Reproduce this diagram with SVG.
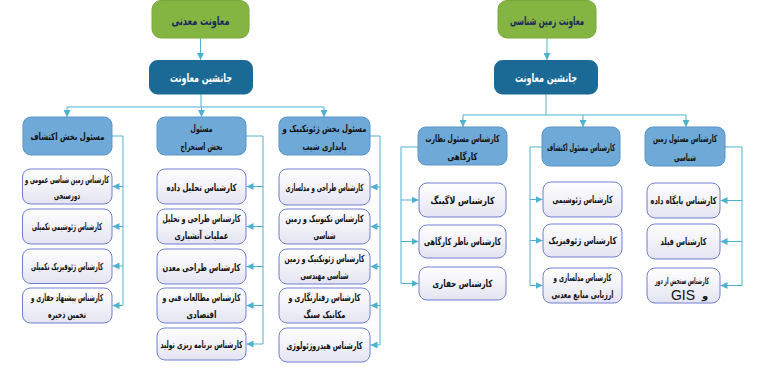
<svg xmlns="http://www.w3.org/2000/svg" width="768" height="378" viewBox="0 0 768 378">
<defs>
<linearGradient id="cg" x1="0" y1="0" x2="0" y2="1">
<stop offset="0" stop-color="#ffffff"/>
<stop offset="1" stop-color="#e4e4f2"/>
</linearGradient>
<marker id="ah" viewBox="0 0 10 10" refX="10" refY="5" markerWidth="7" markerHeight="7" markerUnits="userSpaceOnUse" orient="auto">
<path d="M0,0 L10,5 L0,10 z" fill="#4cb3cf"/>
</marker>
<style>
.top{fill:#84b441;stroke:#7aa63c;stroke-width:1}
.dep{fill:#1b6a96;stroke:#1b6a96;stroke-width:1}
.hd{fill:#6fa9d8;stroke:#5b95c6;stroke-width:1}
.ch{fill:url(#cg);stroke:#6f7fd3;stroke-width:1}
.t{font-family:"DejaVu Sans",sans-serif;text-anchor:middle}
.tt{font-size:12px;font-weight:bold;fill:#1b2a5a}
.td{font-size:11.5px;font-weight:bold;fill:#ffffff}
.th{font-size:10px;font-weight:bold;fill:#111111}
.tc{font-size:10px;font-weight:bold;fill:#111111}
.lat{font-family:"Liberation Sans",sans-serif;font-size:14px;fill:#111111;text-anchor:middle}
.cn{fill:none;stroke:#4cb3cf;stroke-width:1}
</style>
</defs>

<g id="connectors">
<path class="cn" d="M200.5,38 V60" marker-end="url(#ah)"/>
<path class="cn" d="M201,94 V107 M67,107 H324"/>
<path class="cn" d="M67,107 V117" marker-end="url(#ah)"/>
<path class="cn" d="M201.5,107 V117" marker-end="url(#ah)"/>
<path class="cn" d="M324,107 V117" marker-end="url(#ah)"/>
<path class="cn" d="M547,38 V60" marker-end="url(#ah)"/>
<path class="cn" d="M546,94 V115 M463,115 H686"/>
<path class="cn" d="M463,115 V127" marker-end="url(#ah)"/>
<path class="cn" d="M583,115 V127" marker-end="url(#ah)"/>
<path class="cn" d="M686,115 V127" marker-end="url(#ah)"/>

<path class="cn" d="M112,136 H123 V305.5"/>
<path class="cn" d="M123,186.5 H112.5" marker-end="url(#ah)"/>
<path class="cn" d="M123,226.5 H112.5" marker-end="url(#ah)"/>
<path class="cn" d="M123,266 H112.5" marker-end="url(#ah)"/>
<path class="cn" d="M123,305.5 H112.5" marker-end="url(#ah)"/>

<path class="cn" d="M246,136 H263 V344"/>
<path class="cn" d="M263,186.5 H246.5" marker-end="url(#ah)"/>
<path class="cn" d="M263,226.5 H246.5" marker-end="url(#ah)"/>
<path class="cn" d="M263,266.5 H246.5" marker-end="url(#ah)"/>
<path class="cn" d="M263,305.5 H246.5" marker-end="url(#ah)"/>
<path class="cn" d="M263,344 H246.5" marker-end="url(#ah)"/>

<path class="cn" d="M370,136 H380 V345"/>
<path class="cn" d="M380,187 H370.5" marker-end="url(#ah)"/>
<path class="cn" d="M380,226.5 H370.5" marker-end="url(#ah)"/>
<path class="cn" d="M380,266.5 H370.5" marker-end="url(#ah)"/>
<path class="cn" d="M380,305.5 H370.5" marker-end="url(#ah)"/>
<path class="cn" d="M380,345 H370.5" marker-end="url(#ah)"/>

<path class="cn" d="M418,147 H401 V283.5"/>
<path class="cn" d="M401,200 H418.5" marker-end="url(#ah)"/>
<path class="cn" d="M401,241.5 H418.5" marker-end="url(#ah)"/>
<path class="cn" d="M401,283.5 H418.5" marker-end="url(#ah)"/>

<path class="cn" d="M542,147 H530 V285.5"/>
<path class="cn" d="M530,199.5 H542.5" marker-end="url(#ah)"/>
<path class="cn" d="M530,240.5 H542.5" marker-end="url(#ah)"/>
<path class="cn" d="M530,285.5 H542.5" marker-end="url(#ah)"/>

<path class="cn" d="M725,147 H742 V285.5"/>
<path class="cn" d="M742,200.5 H720.5" marker-end="url(#ah)"/>
<path class="cn" d="M742,241.5 H720.5" marker-end="url(#ah)"/>
<path class="cn" d="M742,285.5 H720.5" marker-end="url(#ah)"/>
</g>

<g id="n-maadani"><rect class="top" x="152" y="0.5" width="97" height="37.5" rx="9"/><text class="t tt" x="200.5" y="25" textLength="58" lengthAdjust="spacingAndGlyphs">معاونت معدنی</text></g>
<g id="n-jan-left"><rect class="dep" x="149.5" y="60.5" width="103" height="33.5" rx="8"/><text class="t td" x="201" y="82" textLength="62" lengthAdjust="spacingAndGlyphs">جانشین معاونت</text></g>
<g id="n-zamin"><rect class="top" x="498" y="0.5" width="98" height="37.5" rx="9"/><text class="t tt" x="547" y="25" textLength="74" lengthAdjust="spacingAndGlyphs">معاونت زمین شناسی</text></g>
<g id="n-jan-right"><rect class="dep" x="494.5" y="60.5" width="103" height="33.5" rx="8"/><text class="t td" x="546" y="82" textLength="62" lengthAdjust="spacingAndGlyphs">جانشین معاونت</text></g>

<g id="h-ekteshaf"><rect class="hd" x="23" y="117" width="89" height="38" rx="8"/><text class="t th" x="67.5" y="140" textLength="74" lengthAdjust="spacingAndGlyphs">مسئول بخش اکتشاف</text></g>
<g id="c1-1"><rect class="ch" x="22.5" y="169" width="89.5" height="35" rx="8"/><text class="t tc" x="67" y="183" textLength="84" lengthAdjust="spacingAndGlyphs">کارشناس زمین شناسی عمومی و</text><text class="t tc" x="67" y="199" textLength="26" lengthAdjust="spacingAndGlyphs">دورسنجی</text></g>
<g id="c1-2"><rect class="ch" x="22.5" y="209" width="89.5" height="35" rx="8"/><text class="t tc" x="67" y="230" textLength="70" lengthAdjust="spacingAndGlyphs">کارشناس ژئوشیمی تکمیلی</text></g>
<g id="c1-3"><rect class="ch" x="22.5" y="249" width="89.5" height="34.5" rx="8"/><text class="t tc" x="67" y="270" textLength="72" lengthAdjust="spacingAndGlyphs">کارشناس ژئوفیزیک تکمیلی</text></g>
<g id="c1-4"><rect class="ch" x="22.5" y="288" width="89.5" height="35" rx="8"/><text class="t tc" x="67" y="301" textLength="72" lengthAdjust="spacingAndGlyphs">کارشناس پیشنهاد حفاری و</text><text class="t tc" x="67" y="318" textLength="38" lengthAdjust="spacingAndGlyphs">تخمین ذخیره</text></g>

<g id="h-estekhraj"><rect class="hd" x="157" y="117" width="89" height="38" rx="8"/><text class="t th" x="201.5" y="132" textLength="22" lengthAdjust="spacingAndGlyphs">مسئول</text><text class="t th" x="201.5" y="150" textLength="42" lengthAdjust="spacingAndGlyphs">بخش استخراج</text></g>
<g id="c2-1"><rect class="ch" x="157" y="169" width="89" height="35" rx="8"/><text class="t tc" x="201.5" y="191" textLength="70" lengthAdjust="spacingAndGlyphs">کارشناس تحلیل داده</text></g>
<g id="c2-2"><rect class="ch" x="157" y="209" width="89" height="35" rx="8"/><text class="t tc" x="201.5" y="222" textLength="78" lengthAdjust="spacingAndGlyphs">کارشناس طراحی و تحلیل</text><text class="t tc" x="201.5" y="239" textLength="54" lengthAdjust="spacingAndGlyphs">عملیات آتشباری</text></g>
<g id="c2-3"><rect class="ch" x="157" y="249" width="89" height="35" rx="8"/><text class="t tc" x="201.5" y="271" textLength="78" lengthAdjust="spacingAndGlyphs">کارشناس طراحی معدن</text></g>
<g id="c2-4"><rect class="ch" x="157" y="288" width="89" height="35" rx="8"/><text class="t tc" x="201.5" y="301" textLength="78" lengthAdjust="spacingAndGlyphs">کارشناس مطالعات فنی و</text><text class="t tc" x="201.5" y="318" textLength="30" lengthAdjust="spacingAndGlyphs">اقتصادی</text></g>
<g id="c2-5"><rect class="ch" x="157" y="328" width="89" height="32" rx="8"/><text class="t tc" x="201.5" y="348" textLength="82" lengthAdjust="spacingAndGlyphs">کارشناس برنامه ریزی تولید</text></g>

<g id="h-geotech"><rect class="hd" x="279" y="117" width="91" height="38" rx="8"/><text class="t th" x="324.5" y="132" textLength="84" lengthAdjust="spacingAndGlyphs">مسئول بخش ژئوتکنیک و</text><text class="t th" x="324.5" y="150" textLength="44" lengthAdjust="spacingAndGlyphs">پایداری شیب</text></g>
<g id="c3-1"><rect class="ch" x="279" y="169" width="91" height="36" rx="8"/><text class="t tc" x="324.5" y="191" textLength="78" lengthAdjust="spacingAndGlyphs">کارشناس طراحی و مدلسازی</text></g>
<g id="c3-2"><rect class="ch" x="279" y="209" width="91" height="35" rx="8"/><text class="t tc" x="324.5" y="222" textLength="78" lengthAdjust="spacingAndGlyphs">کارشناس تکتونیک و زمین</text><text class="t tc" x="324.5" y="239" textLength="22" lengthAdjust="spacingAndGlyphs">شناسی</text></g>
<g id="c3-3"><rect class="ch" x="279" y="249" width="91" height="35" rx="8"/><text class="t tc" x="324.5" y="262" textLength="80" lengthAdjust="spacingAndGlyphs">کارشناس ژئوتکنیک و زمین</text><text class="t tc" x="324.5" y="279" textLength="48" lengthAdjust="spacingAndGlyphs">شناسی مهندسی</text></g>
<g id="c3-4"><rect class="ch" x="279" y="288" width="91" height="35" rx="8"/><text class="t tc" x="324.5" y="301" textLength="72" lengthAdjust="spacingAndGlyphs">کارشناس رفتارنگاری و</text><text class="t tc" x="324.5" y="318" textLength="42" lengthAdjust="spacingAndGlyphs">مکانیک سنگ</text></g>
<g id="c3-5"><rect class="ch" x="279" y="328" width="91" height="34" rx="8"/><text class="t tc" x="324.5" y="349" textLength="76" lengthAdjust="spacingAndGlyphs">کارشناس هیدروژئولوژی</text></g>

<g id="h-nezarat"><rect class="hd" x="418" y="127" width="89" height="38" rx="8"/><text class="t th" x="462.5" y="142" textLength="74" lengthAdjust="spacingAndGlyphs">کارشناس مسئول نظارت</text><text class="t th" x="462.5" y="160" textLength="30" lengthAdjust="spacingAndGlyphs">کارگاهی</text></g>
<g id="c4-1"><rect class="ch" x="419" y="183" width="87" height="34" rx="8"/><text class="t tc" x="462.5" y="204" textLength="64" lengthAdjust="spacingAndGlyphs">کارشناس لاگینگ</text></g>
<g id="c4-2"><rect class="ch" x="419" y="225" width="87" height="33" rx="8"/><text class="t tc" x="462.5" y="245" textLength="77" lengthAdjust="spacingAndGlyphs">کارشناس ناظر کارگاهی</text></g>
<g id="c4-3"><rect class="ch" x="419" y="267" width="87" height="33" rx="8"/><text class="t tc" x="462.5" y="287" textLength="60" lengthAdjust="spacingAndGlyphs">کارشناس حفاری</text></g>

<g id="h-ekteshaf2"><rect class="hd" x="542" y="127" width="78" height="39" rx="8"/><text class="t th" x="581" y="151" textLength="68" lengthAdjust="spacingAndGlyphs">کارشناس مسئول اکتشاف</text></g>
<g id="c5-1"><rect class="ch" x="543" y="182" width="79" height="35" rx="8"/><text class="t tc" x="582.5" y="203" textLength="60" lengthAdjust="spacingAndGlyphs">کارشناس ژئوشیمی</text></g>
<g id="c5-2"><rect class="ch" x="543" y="224" width="79" height="33" rx="8"/><text class="t tc" x="582.5" y="244" textLength="68" lengthAdjust="spacingAndGlyphs">کارشناس ژئوفیزیک</text></g>
<g id="c5-3"><rect class="ch" x="543" y="268" width="79" height="35" rx="8"/><text class="t tc" x="582.5" y="281" textLength="58" lengthAdjust="spacingAndGlyphs">کارشناس مدلسازی و</text><text class="t tc" x="582.5" y="298" textLength="62" lengthAdjust="spacingAndGlyphs">ارزیابی منابع معدنی</text></g>

<g id="h-zamin"><rect class="hd" x="645" y="127" width="80" height="39" rx="8"/><text class="t th" x="685" y="142" textLength="64" lengthAdjust="spacingAndGlyphs">کارشناس مسئول زمین</text><text class="t th" x="685" y="161" textLength="22" lengthAdjust="spacingAndGlyphs">شناسی</text></g>
<g id="c6-1"><rect class="ch" x="647" y="183" width="73" height="35" rx="8"/><text class="t tc" x="683.5" y="204" textLength="66" lengthAdjust="spacingAndGlyphs">کارشناس پایگاه داده</text></g>
<g id="c6-2"><rect class="ch" x="647" y="224" width="73" height="35" rx="8"/><text class="t tc" x="683.5" y="245" textLength="46" lengthAdjust="spacingAndGlyphs">کارشناس فیلد</text></g>
<g id="c6-3"><rect class="ch" x="647" y="268" width="73" height="35" rx="8"/><text class="t tc" x="682" y="284" style="font-size:9px" textLength="54" lengthAdjust="spacingAndGlyphs">کارشناس سنجش از دور</text><text class="lat" x="683" y="300">GIS</text><text class="t tc" x="705" y="299">و</text></g>
</svg>
